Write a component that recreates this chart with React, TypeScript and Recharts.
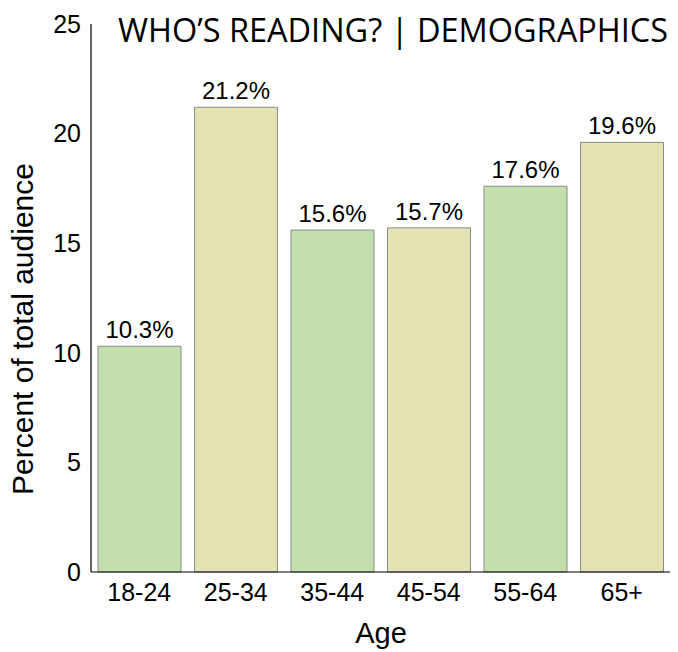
import React from "react";
import { BarChart, Bar, XAxis, YAxis, Cell, LabelList, Label } from "recharts";

const ageGroups = ["18-24", "25-34", "35-44", "45-54", "55-64", "65+"];
const audienceShare = [10.3, 21.2, 15.6, 15.7, 17.6, 19.6];
const yTicks = [0, 5, 10, 15, 20, 25];
const barColors = ["#c3dfab", "#e4e3b4"];

const data = ageGroups.map((age, i) => ({ age, value: audienceShare[i] }));

const FONT = "'Liberation Sans', Arial, Helvetica, sans-serif";

export default function App() {
  return (
    <div style={{ position: "absolute", left: 0, top: 0, width: 678, height: 652, background: "#fff" }}>
      <BarChart
        width={678}
        height={652}
        data={data}
        margin={{ top: 24, right: 8, bottom: 0, left: 0 }}
        barCategoryGap={7}
      >
        <XAxis
          dataKey="age"
          height={80}
          tickLine={false}
          tickSize={0}
          tickMargin={11}
          axisLine={{ stroke: "#000", strokeWidth: 1.2 }}
          tick={{ fill: "#000", fontSize: 25, fontFamily: FONT }}
          interval={0}
        >
          <Label
            content={() => (
              <text x={381} y={643} textAnchor="middle" fill="#000" fontSize={29} fontFamily={FONT}>
                Age
              </text>
            )}
          />
        </XAxis>
        <YAxis
          width={91}
          domain={[0, 25]}
          ticks={yTicks}
          tickLine={false}
          tickSize={0}
          tickMargin={10}
          axisLine={{ stroke: "#000", strokeWidth: 1.2 }}
          tick={{ fill: "#000", fontSize: 25, fontFamily: FONT }}
          interval={0}
        >
          <Label
            content={() => (
              <text
                x={33}
                y={329}
                transform="rotate(-90, 33, 329)"
                textAnchor="middle"
                fill="#000"
                fontSize={30}
                fontFamily={FONT}
              >
                Percent of total audience
              </text>
            )}
          />
        </YAxis>
        <Bar dataKey="value" isAnimationActive={false} stroke="#8c8c8c" strokeWidth={1}>
          {data.map((d, i) => (
            <Cell key={d.age} fill={barColors[i % 2]} />
          ))}
          <LabelList
            dataKey="value"
            position="top"
            offset={8}
            formatter={(v: number) => `${v.toFixed(1)}%`}
            style={{ fill: "#000", fontSize: 24, fontFamily: FONT }}
          />
        </Bar>
      </BarChart>
      <svg width={678} height={60} style={{ position: "absolute", left: 0, top: 0, pointerEvents: "none" }}>
        <text
          x={118}
          y={42}
          textLength={550}
          lengthAdjust="spacingAndGlyphs"
          fill="#000"
          fontSize={32}
          fontFamily="'Open Sans', 'Noto Sans', sans-serif"
        >
          WHO’S READING? | DEMOGRAPHICS
        </text>
      </svg>
    </div>
  );
}
